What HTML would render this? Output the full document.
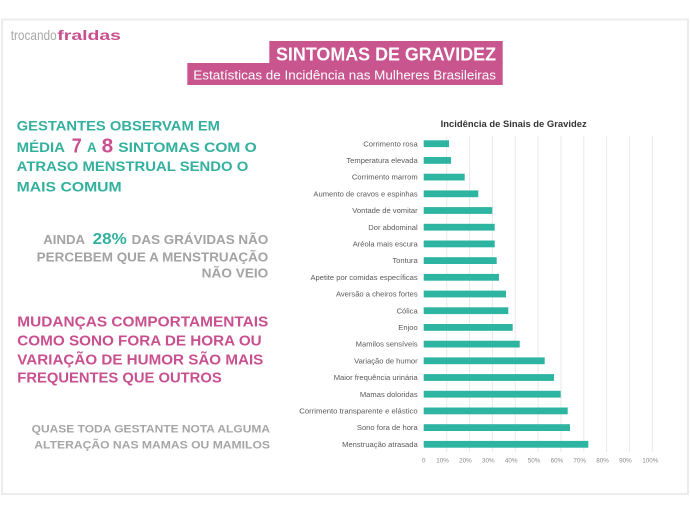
<!DOCTYPE html>
<html><head><meta charset="utf-8">
<style>
html,body{margin:0;padding:0;background:#fff;}
svg{display:block;}
text{font-family:"Liberation Sans",sans-serif;}
</style></head>
<body>
<svg width="690" height="514" viewBox="0 0 690 514" xmlns="http://www.w3.org/2000/svg">
<rect x="0" y="0" width="690" height="514" fill="#fff"/>
<rect x="2" y="19.5" width="686" height="474.5" fill="#fff" stroke="#ececec" stroke-width="2"/>

<!-- logo -->
<text x="10.7" y="40" font-size="14" fill="#a9a9a9" textLength="46" lengthAdjust="spacingAndGlyphs">trocando</text>
<text x="57.3" y="40" font-size="14" font-weight="bold" fill="#c9508f" textLength="63.7" lengthAdjust="spacingAndGlyphs">fraldas</text>

<!-- title boxes -->
<rect x="269.3" y="41" width="233.4" height="23" fill="#c9558f"/>
<rect x="187.3" y="63" width="315.4" height="22" fill="#c9558f"/>
<text x="276" y="60.7" font-size="18" font-weight="bold" fill="#fff" textLength="220" lengthAdjust="spacingAndGlyphs">SINTOMAS DE GRAVIDEZ</text>
<text x="193.3" y="79.5" font-size="13" fill="#fff" textLength="302.7" lengthAdjust="spacingAndGlyphs">Estatísticas de Incidência nas Mulheres Brasileiras</text>

<!-- block 1 -->
<g font-weight="bold" font-size="14" fill="#33b09e">
<text x="16.7" y="130.7" textLength="203.3" lengthAdjust="spacingAndGlyphs">GESTANTES OBSERVAM EM</text>
<text x="16.7" y="151.8" textLength="48.3" lengthAdjust="spacingAndGlyphs">MÉDIA</text>
<text x="87" y="151.8" textLength="9.7" lengthAdjust="spacingAndGlyphs">A</text>
<text x="118.3" y="151.8" textLength="138.4" lengthAdjust="spacingAndGlyphs">SINTOMAS COM O</text>
<text x="16.7" y="171.2" textLength="231.6" lengthAdjust="spacingAndGlyphs">ATRASO MENSTRUAL SENDO O</text>
<text x="16.7" y="191.7" textLength="105" lengthAdjust="spacingAndGlyphs">MAIS COMUM</text>
</g>
<text x="71.7" y="152.3" font-size="20" font-weight="bold" fill="#c9508f" textLength="10" lengthAdjust="spacingAndGlyphs">7</text>
<text x="101.7" y="152.3" font-size="20" font-weight="bold" fill="#c9508f" textLength="11.6" lengthAdjust="spacingAndGlyphs">8</text>

<!-- block 2 -->
<g font-weight="bold" font-size="13" fill="#a3a3a3">
<text x="43.3" y="244" textLength="41.7" lengthAdjust="spacingAndGlyphs">AINDA</text>
<text x="131.7" y="244" textLength="136.6" lengthAdjust="spacingAndGlyphs">DAS GRÁVIDAS NÃO</text>
<text x="36.7" y="261.7" textLength="231.6" lengthAdjust="spacingAndGlyphs">PERCEBEM QUE A MENSTRUAÇÃO</text>
<text x="201.7" y="277.5" textLength="66.6" lengthAdjust="spacingAndGlyphs">NÃO VEIO</text>
</g>
<text x="92.7" y="244.2" font-size="16" font-weight="bold" fill="#33b09e" textLength="34" lengthAdjust="spacingAndGlyphs">28%</text>

<!-- block 3 -->
<g font-weight="bold" font-size="14.6" fill="#c9508f">
<text x="17.3" y="326.7" textLength="251" lengthAdjust="spacingAndGlyphs">MUDANÇAS COMPORTAMENTAIS</text>
<text x="17.3" y="345.5" textLength="244.4" lengthAdjust="spacingAndGlyphs">COMO SONO FORA DE HORA OU</text>
<text x="17.3" y="364.3" textLength="246" lengthAdjust="spacingAndGlyphs">VARIAÇÃO DE HUMOR SÃO MAIS</text>
<text x="17.3" y="382.7" textLength="204.4" lengthAdjust="spacingAndGlyphs">FREQUENTES QUE OUTROS</text>
</g>

<!-- block 4 -->
<g font-weight="bold" font-size="11" fill="#a6a6a6">
<text x="31.7" y="432.7" textLength="238.3" lengthAdjust="spacingAndGlyphs">QUASE TODA GESTANTE NOTA ALGUMA</text>
<text x="34.3" y="448.7" textLength="235.7" lengthAdjust="spacingAndGlyphs">ALTERAÇÃO NAS MAMAS OU MAMILOS</text>
</g>

<!-- chart title -->
<text x="440.7" y="126.8" font-size="9" font-weight="bold" fill="#333" textLength="146" lengthAdjust="spacingAndGlyphs">Incidência de Sinais de Gravidez</text>

<!-- gridlines -->
<g stroke="#e9e9e9" stroke-width="1">
<line x1="446.7" y1="136" x2="446.7" y2="452"/>
<line x1="469.5" y1="136" x2="469.5" y2="452"/>
<line x1="492.4" y1="136" x2="492.4" y2="452"/>
<line x1="515.3" y1="136" x2="515.3" y2="452"/>
<line x1="538.1" y1="136" x2="538.1" y2="452"/>
<line x1="561" y1="136" x2="561" y2="452"/>
<line x1="583.8" y1="136" x2="583.8" y2="452"/>
<line x1="606.6" y1="136" x2="606.6" y2="452"/>
<line x1="629.5" y1="136" x2="629.5" y2="452"/>
<line x1="652.3" y1="136" x2="652.3" y2="452"/>
</g>

<!-- bars -->
<g fill="#2db5a2">
<rect x="423.7" y="140.3" width="25.3" height="6.8"/>
<rect x="423.7" y="157.0" width="27.3" height="6.8"/>
<rect x="423.7" y="173.7" width="41.0" height="6.8"/>
<rect x="423.7" y="190.4" width="54.6" height="6.8"/>
<rect x="423.7" y="207.1" width="68.6" height="6.8"/>
<rect x="423.7" y="223.8" width="71.0" height="6.8"/>
<rect x="423.7" y="240.5" width="71.0" height="6.8"/>
<rect x="423.7" y="257.2" width="73.0" height="6.8"/>
<rect x="423.7" y="273.9" width="75.3" height="6.8"/>
<rect x="423.7" y="290.6" width="82.3" height="6.8"/>
<rect x="423.7" y="307.3" width="84.6" height="6.8"/>
<rect x="423.7" y="324.0" width="89.0" height="6.8"/>
<rect x="423.7" y="340.7" width="96.0" height="6.8"/>
<rect x="423.7" y="357.4" width="121.0" height="6.8"/>
<rect x="423.7" y="374.1" width="130.3" height="6.8"/>
<rect x="423.7" y="390.8" width="137.0" height="6.8"/>
<rect x="423.7" y="407.5" width="144.0" height="6.8"/>
<rect x="423.7" y="424.2" width="146.3" height="6.8"/>
<rect x="423.7" y="440.9" width="164.6" height="6.8"/>
</g>

<!-- category labels -->
<g font-size="7.6" fill="#5a5a5a" text-anchor="end">
<text x="417.7" y="146.3">Corrimento rosa</text>
<text x="417.7" y="163.0">Temperatura elevada</text>
<text x="417.7" y="179.7">Corrimento marrom</text>
<text x="417.7" y="196.4">Aumento de cravos e espinhas</text>
<text x="417.7" y="213.1">Vontade de vomitar</text>
<text x="417.7" y="229.8">Dor abdominal</text>
<text x="417.7" y="246.5">Aréola mais escura</text>
<text x="417.7" y="263.2">Tontura</text>
<text x="417.7" y="279.9">Apetite por comidas específicas</text>
<text x="417.7" y="296.6">Aversão a cheiros fortes</text>
<text x="417.7" y="313.3">Cólica</text>
<text x="417.7" y="330.0">Enjoo</text>
<text x="417.7" y="346.7">Mamilos sensíveis</text>
<text x="417.7" y="363.4">Variação de humor</text>
<text x="417.7" y="380.1">Maior frequência urinária</text>
<text x="417.7" y="396.8">Mamas doloridas</text>
<text x="417.7" y="413.5" textLength="118.4" lengthAdjust="spacingAndGlyphs">Corrimento transparente e elástico</text>
<text x="417.7" y="430.2">Sono fora de hora</text>
<text x="417.7" y="446.9">Menstruação atrasada</text>
</g>

<!-- tick labels -->
<g font-size="6.3" fill="#8a8a8a" text-anchor="middle">
<text x="423.7" y="462.6">0</text>
<text x="442.5" y="462.6">10%</text>
<text x="465.4" y="462.6">20%</text>
<text x="488.3" y="462.6">30%</text>
<text x="511.2" y="462.6">40%</text>
<text x="534.0" y="462.6">50%</text>
<text x="556.9" y="462.6">60%</text>
<text x="579.7" y="462.6">70%</text>
<text x="602.6" y="462.6">80%</text>
<text x="625.4" y="462.6">90%</text>
<text x="650.3" y="462.6">100%</text>
</g>
</svg>
</body></html>
